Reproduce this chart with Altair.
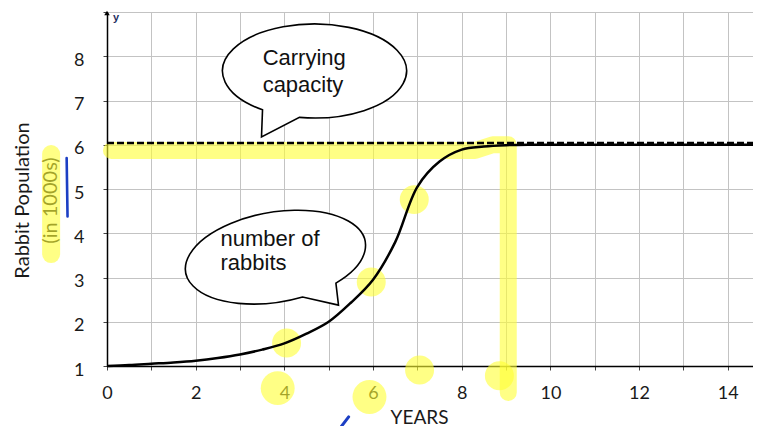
import math
import altair as alt
import pandas as pd

# ---- data ----
years = [0, 0.5, 1, 1.5, 2, 2.5, 3, 3.5, 4, 4.5, 5, 5.5, 6, 6.5, 7, 7.5, 8, 8.5, 9, 9.5, 10, 11, 12, 13, 14, 14.57]
rabbits = [1.0, 1.02, 1.05, 1.08, 1.12, 1.18, 1.26, 1.37, 1.51, 1.73, 2.0, 2.43, 2.95, 3.8, 5.05, 5.62, 5.89, 5.96, 5.99, 6.0, 6.0, 6.0, 6.0, 6.0, 6.0, 6.0]
capacity = 6.04
x_range = [0, 14.57]
y_range = [1, 9]
x_ticks = list(range(0, 15))
y_ticks = list(range(1, 10))
x_title = "YEARS"
y_title = ["Rabbit Population", "(in 1000s)"]

# callout bubbles (anchor in data units) and their texts
bubble_x = [4.68, 3.80]
bubble_y = [7.667, 3.46]
label_x = [3.51, 2.56]
label_y = [7.96, 3.87]
label_text = ["Carrying\ncapacity", "number of\nrabbits"]

# hand-drawn highlighter strokes (data units)
hl_path_x = [0.1, 8.3, 8.7, 9.05, 9.05]
hl_path_y = [5.87, 5.87, 6.0, 6.0, 0.4]
hl_title_x = [-1.26, -1.26]
hl_title_y = [5.79, 3.53]
hl_dot_x = [4.05, 5.96, 6.93, 7.05, 8.85]
hl_dot_y = [1.52, 2.9, 4.76, 0.91, 0.78]
hl_lab_x = [3.85, 5.92]
hl_lab_y = [0.5, 0.3]
pen1_x = [-0.91, -0.89]
pen1_y = [5.70, 4.38]
pen2_x = [5.29, 5.45]
pen2_y = [-0.36, -0.15]


def bubble_path(a, b, phi_deg, t1, t2, tip, sweep):
    phi = math.radians(phi_deg)

    def pt(t):
        t = math.radians(t)
        ex, ey = a * math.cos(t), b * math.sin(t)
        return (ex * math.cos(phi) - ey * math.sin(phi), ex * math.sin(phi) + ey * math.cos(phi))

    p1, p2 = pt(t1), pt(t2)
    return (f"M{tip[0]},{tip[1]} L{p1[0]:.2f},{p1[1]:.2f} "
            f"A{a},{b} {phi_deg} 1 {sweep} {p2[0]:.2f},{p2[1]:.2f} Z")


shape_cap = bubble_path(92, 47, 0, 124.4, 99.4, (-53, 66), 1)
shape_rab = bubble_path(91, 45, -9.76, 52.7, 77.3, (63, 48), 0)

xs = alt.Scale(domain=x_range, nice=False, zero=False)
ys = alt.Scale(domain=y_range, nice=False, zero=False)

ink = "#1a1a1a"
x_axis = alt.Axis(
    values=x_ticks, labelExpr="datum.value % 2 == 0 ? datum.label : ''",
    grid=True, gridColor="#c3c3c3", gridWidth=1,
    tickColor="#444", tickSize=4, domainColor="#000", domainWidth=1.5,
    labelFont="Lato", labelFontSize=18, labelColor=ink, labelPadding=14,
    labelFlush=False, labelOverlap=False,
    titleFont="Lato", titleFontSize=19, titleFontWeight="normal",
    titleColor=ink, titleX=312, titleY=42, titleAlign="center", titleBaseline="top",
)
y_axis = alt.Axis(
    values=y_ticks, labelExpr="datum.value < 9 ? datum.label : ''",
    grid=True, gridColor="#c3c3c3", gridWidth=1,
    tickColor="#444", tickSize=4, domainColor="#000", domainWidth=1.5,
    labelFont="Lato", labelFontSize=18, labelColor=ink, labelPadding=19,
    labelOffset=4, labelFlush=False, labelOverlap=False,
    titleFont="Lato", titleFontSize=20,
    titleFontWeight="normal", titleColor=ink, titleAngle=270,
    titleX=-85, titleY=188, titleAlign="center", titleBaseline="middle", titleLineHeight=28,
)


def X(f="x"):
    return alt.X(f"{f}:Q", scale=xs, axis=x_axis, title=x_title)


def Y(f="y"):
    return alt.Y(f"{f}:Q", scale=ys, axis=y_axis, title=y_title)


curve_df = pd.DataFrame({"x": years, "y": rabbits})
cap_df = pd.DataFrame({"x": x_range, "y": [capacity, capacity]})

yellow = "#ffff33"
hl_band = alt.Chart(pd.DataFrame({"x": hl_path_x, "y": hl_path_y, "o": range(len(hl_path_x))})).mark_line(
    color=yellow, opacity=0.6, strokeWidth=17, strokeCap="round", strokeJoin="round"
).encode(x=X(), y=Y(), order="o:Q")
hl_title = alt.Chart(pd.DataFrame({"x": hl_title_x, "y": hl_title_y})).mark_line(
    color=yellow, opacity=0.6, strokeWidth=18, strokeCap="round"
).encode(x=X(), y=Y())
hl_dots = alt.Chart(pd.DataFrame({"x": hl_dot_x, "y": hl_dot_y})).mark_point(
    shape="circle", filled=True, color=yellow, opacity=0.6, size=840, strokeWidth=0
).encode(x=X(), y=Y())
hl_labs = alt.Chart(pd.DataFrame({"x": hl_lab_x, "y": hl_lab_y})).mark_point(
    shape="circle", filled=True, color=yellow, opacity=0.6, size=1150, strokeWidth=0
).encode(x=X(), y=Y())

pen1 = alt.Chart(pd.DataFrame({"x": pen1_x, "y": pen1_y})).mark_line(
    color="#1c3fc4", strokeWidth=2.6, strokeCap="round"
).encode(x=X(), y=Y())
pen2 = alt.Chart(pd.DataFrame({"x": pen2_x, "y": pen2_y})).mark_line(
    color="#1c3fc4", strokeWidth=3, strokeCap="round"
).encode(x=X(), y=Y())

bub_cap = alt.Chart(pd.DataFrame({"x": bubble_x[:1], "y": bubble_y[:1]})).mark_point(
    shape=shape_cap, size=4, filled=True, fill="white", stroke="black", strokeWidth=1.6, opacity=1
).encode(x=X(), y=Y())
bub_rab = alt.Chart(pd.DataFrame({"x": bubble_x[1:], "y": bubble_y[1:]})).mark_point(
    shape=shape_rab, size=4, filled=True, fill="white", stroke="black", strokeWidth=1.6, opacity=1
).encode(x=X(), y=Y())

curve = alt.Chart(curve_df).mark_line(
    color="black", strokeWidth=2.5, interpolate="catmull-rom"
).encode(x=X(), y=Y())
cap_line = alt.Chart(cap_df).mark_line(
    color="black", strokeWidth=2.6, strokeDash=[7, 3]
).encode(x=X(), y=Y())

txt_cap = alt.Chart(pd.DataFrame({"x": label_x[:1], "y": label_y[:1], "t": label_text[:1]})).mark_text(
    align="left", baseline="middle", font="Liberation Sans", fontSize=22, lineHeight=27,
    lineBreak="\n", color="#111"
).encode(x=X(), y=Y(), text="t:N")
txt_rab = alt.Chart(pd.DataFrame({"x": label_x[1:], "y": label_y[1:], "t": label_text[1:]})).mark_text(
    align="left", baseline="middle", font="Liberation Sans", fontSize=22, lineHeight=24,
    lineBreak="\n", color="#111"
).encode(x=X(), y=Y(), text="t:N")

top_df = pd.DataFrame({"x": [x_range[0]], "y": [y_range[1]], "t": ["y"]})
arrow = alt.Chart(top_df).mark_point(
    shape="triangle-up", filled=True, color="black", size=30, opacity=1, yOffset=1
).encode(x=X(), y=Y())
ylab = alt.Chart(top_df).mark_text(
    align="left", baseline="middle", font="Liberation Sans", fontSize=11, fontWeight="bold",
    color="#1f2f5f", dx=6, dy=6
).encode(x=X(), y=Y(), text="t:N")

chart = alt.layer(
    hl_band, hl_title, hl_dots, hl_labs, bub_cap, bub_rab, curve, cap_line,
    txt_cap, txt_rab, arrow, ylab, pen1, pen2
).properties(
    width=646, height=354,
    autosize=alt.AutoSizeParams(type="none"),
    padding={"left": 99, "top": 4, "right": 0, "bottom": 60},
).configure_view(stroke=None)

chart.save("out.html", embed_options={"renderer": "svg", "actions": False})
